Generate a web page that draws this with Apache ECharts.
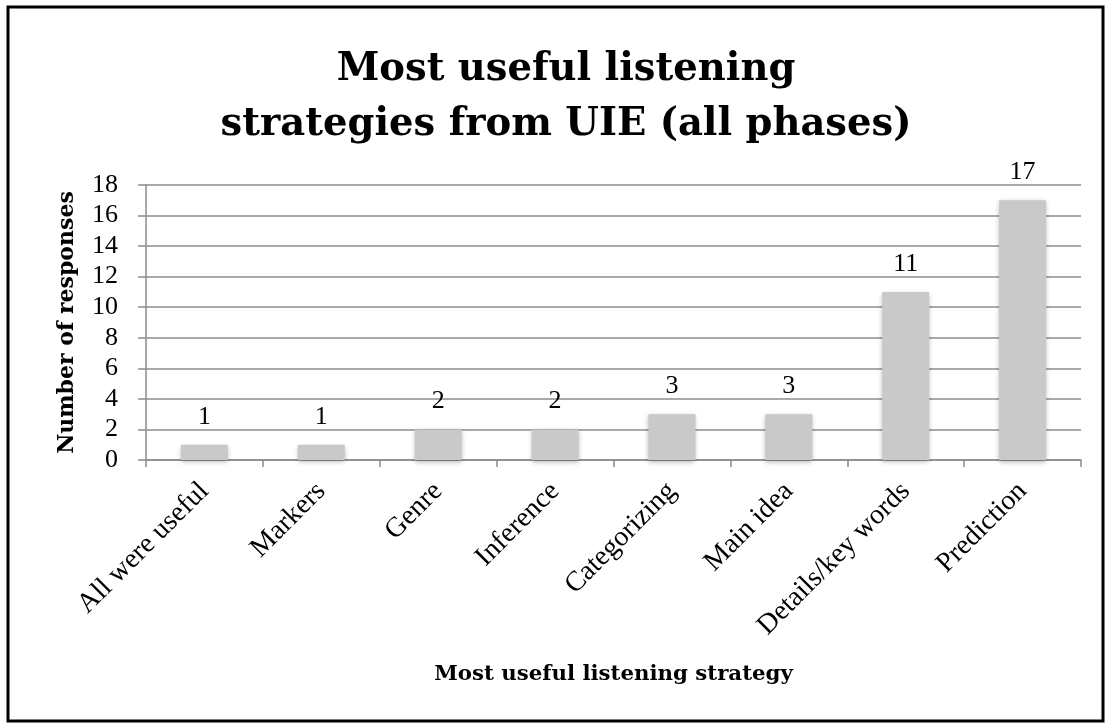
<!DOCTYPE html>
<html><head><meta charset="utf-8">
<script src="https://cdn.jsdelivr.net/npm/echarts@6/dist/echarts.min.js"></script>
<style>html,body{margin:0;padding:0;background:#fff}#c{width:1109px;height:724px}</style>
</head><body><div id="c"></div>
<script>
const categories = ["All were useful","Markers","Genre","Inference","Categorizing","Main idea","Details/key words","Prediction"];
const values = [1,1,2,2,3,3,11,17];
const yTicks = [0,2,4,6,8,10,12,14,16,18];
const titleText = "Most useful listening\nstrategies from UIE (all phases)";
const xName = "Most useful listening strategy";
const yName = "Number of responses";

const F = "'Liberation Serif','DejaVu Serif',serif";
const FB = "'DejaVu Serif','Liberation Serif',serif";
const chart = echarts.init(document.getElementById('c'), null, {renderer:'canvas'});
chart.setOption({
  animation:false,
  backgroundColor:'#fff',
  graphic:[
    {type:'rect', shape:{x:8,y:7,width:1095,height:714}, style:{fill:'none', stroke:'#000', lineWidth:3}, z:-1}
  ],
  title:{text:titleText, left:561, textAlign:'center', top:37, textStyle:{fontFamily:FB, fontWeight:'bold', fontSize:38.5, lineHeight:55, color:'#000'}},
  grid:{left:146, right:28, top:185, bottom:264},
  xAxis:{type:'category', data:categories,
    name:xName, nameLocation:'middle', nameGap:204,
    nameTextStyle:{fontFamily:FB, fontWeight:'bold', fontSize:21.3, color:'#000'},
    axisLine:{lineStyle:{color:'#8c8c8c', width:1.5}},
    axisTick:{show:true, length:7, lineStyle:{color:'#8c8c8c', width:1.5}},
    axisLabel:{rotate:45, fontFamily:F, fontSize:28, color:'#000', margin:27, interval:0}
  },
  yAxis:{type:'value', min:0, max:18, interval:2,
    name:yName, nameLocation:'middle', nameGap:68,
    nameTextStyle:{fontFamily:FB, fontWeight:'bold', fontSize:22, color:'#000'},
    axisLine:{show:true, lineStyle:{color:'#8c8c8c', width:1.5}},
    axisTick:{show:true, length:8, lineStyle:{color:'#8c8c8c', width:1.5}},
    splitLine:{lineStyle:{color:'#8c8c8c', width:1.5}},
    axisLabel:{fontFamily:F, fontSize:26, color:'#000', margin:28,
      formatter:v=>yTicks.includes(v)?String(v):''}
  },
  series:[{type:'bar', data:values, barWidth:47,
    itemStyle:{color:'#c9c9c9', shadowBlur:5, shadowColor:'rgba(0,0,0,0.3)', shadowOffsetY:2},
    label:{show:true, position:'top', distance:15, fontFamily:F, fontSize:26, color:'#000'}
  }]
});
</script></body></html>
